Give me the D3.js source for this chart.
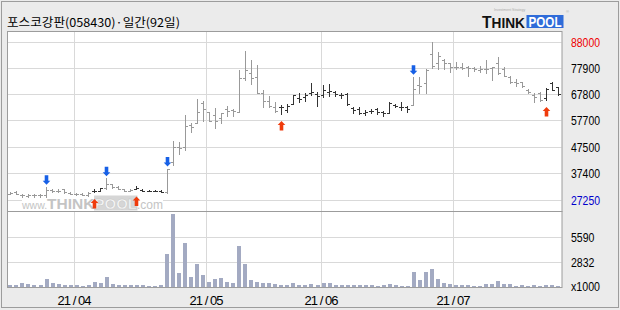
<!DOCTYPE html>
<html><head><meta charset="utf-8">
<script src="https://cdn.jsdelivr.net/npm/d3@7"></script>
<style>body{margin:0;background:#ebebeb}svg{display:block}</style>
</head><body><svg id="c" width="620" height="310"></svg>
<script>
const open=[29500,30250,29000,28600,29000,29000,28800,30900,30700,31100,
29750,29550,29350,28950,30500,30700,31650,33200,32050,31100,
30700,31300,30900,30700,30500,30700,29950,41550,47550,47250,
55900,56650,64500,60800,59750,58450,62050,61650,60800,73850,
76000,74450,68300,65250,62900,62700,61650,63950,66150,66800,
68300,67700,67450,68700,68700,67450,67700,62300,61950,60400,
61300,62050,61000,60650,63600,62900,62700,63600,71250,71950,
83200,79600,80900,79600,78100,78300,78300,77700,77050,77300,
77700,79600,77300,74450,72550,72300,69350,67450,68100,66150,
72150,70600];
const high=[30000,30350,29550,29350,29500,29550,32150,31300,31300,31300,
29950,29850,29750,29950,31100,31850,35400,33400,32250,31300,
31300,32250,31300,30900,30900,30900,39150,49750,49500,59750,
56550,65900,65250,60900,62300,60650,63200,62050,77000,84350,
80900,79000,69350,67150,64850,63600,63950,67450,68300,68100,
72150,68700,71250,71650,68950,68100,68100,62700,62700,61650,
61950,62300,61300,64850,63950,64850,63200,74450,74450,77300,
88000,84100,81150,79600,80000,79600,78600,78300,78600,80900,
78300,82150,78100,74850,73450,72550,69600,68300,68700,70000,
72300,70600];
const low=[29350,29350,28200,28400,28350,28400,28350,30150,30150,29750,
29350,29150,28950,28600,30150,30500,31100,31850,31100,30350,
30350,31100,30500,30350,30350,29950,29850,40500,44750,46300,
53300,56550,57550,57450,54650,56800,59450,59450,60800,73200,
71650,68100,62900,62700,61000,60100,61000,63950,64850,65250,
67450,63200,66800,67050,67050,66150,63600,60400,60100,59750,
60400,60100,59350,60400,62700,61650,61000,63600,68300,68300,
77700,77300,77300,76400,77300,77300,74850,76750,76400,76000,
73200,75400,74850,71950,71000,70600,68300,64850,65250,65500,
69350,67450];
const close=[29850,29500,28800,29150,29000,29150,30900,30700,30500,29950,
29550,29350,29150,29750,30700,31650,33200,32050,31300,30700,
30900,31850,30700,30500,30700,30150,39150,47450,46900,55500,
55250,60800,61900,57550,57550,60400,61300,61450,73850,77000,
73850,68300,65250,63200,61300,62900,63200,67300,65800,67450,
68700,67150,69350,68950,67700,67450,63950,61650,60400,61000,
61300,60800,60400,64450,63200,62700,61950,69600,70900,77000,
78600,82450,79600,78300,78100,77700,77700,77300,77300,77300,
78100,75750,74850,72550,72150,70900,68700,66800,65500,69750,
69350,67700];
const volume=[280,280,540,420,280,280,980,540,420,280,
280,280,170,280,650,540,1170,420,280,280,
280,280,280,170,170,280,3770,8200,1650,5000,
1210,2620,1395,650,950,1100,650,540,4630,2620,
800,650,540,540,430,280,280,540,280,280,
420,280,540,540,280,280,280,280,280,280,
280,170,280,420,280,170,170,1730,800,1730,
2100,950,540,420,280,280,280,170,170,420,
420,760,420,420,170,280,170,280,170,280,
280,170];
const buySignals=[14,21,45,89];
const sellSignals=[6,16,26,67];
const priceTicks=[88000,77900,67800,57700,47500,37400,27250];
const volTicks=[5590,2832];
const holidays=["2021-05-05","2021-05-19"];
const firstDay=new Date(2021,2,17), lastDay=new Date(2021,6,26);
const title="포스코강판(058430)·일간(92일)";

// trading-day categories
const fmtISO=d3.timeFormat("%Y-%m-%d");
const days=d3.timeDay.range(firstDay,d3.timeDay.offset(lastDay,1))
  .filter(d=>d.getDay()>0&&d.getDay()<6&&!holidays.includes(fmtISO(d)));

const svg=d3.select("#c");
const L=7.5,R=561.5,PT=31.5,PB=211.5,VB=287.5;

svg.append("rect").attr("x",1.5).attr("y",1.5).attr("width",617).attr("height",306)
  .attr("fill","#ebebeb").attr("stroke","#9c9c9c");

const x=d3.scaleBand().domain(d3.range(days.length)).range([L,R]).paddingInner(0.3).paddingOuter(0.15);
const step=x.step();
const y=d3.scaleLinear().domain([27250,88000]).range([199.5,41.5]);
const yv=d3.scaleLinear().domain([0,5590]).range([VB,237.3]);

svg.append("rect").attr("x",L).attr("y",PT).attr("width",R-L+0.5).attr("height",VB-PT).attr("fill","#fff");

const monthStarts=days.map((d,i)=>i).filter(i=>i>0&&days[i].getMonth()!==days[i-1].getMonth());
const gx=i=>Math.round(x(i)-step*0.15)+0.5;
const grid=svg.append("g").attr("stroke","#d9d9d9").attr("stroke-width",1);
monthStarts.forEach(i=>{
  grid.append("line").attr("x1",gx(i)).attr("x2",gx(i)).attr("y1",PT).attr("y2",VB);
});
priceTicks.forEach(v=>{
  const yy=Math.round(y(v))+0.5;
  grid.append("line").attr("x1",L).attr("x2",R).attr("y1",yy).attr("y2",yy);
});
volTicks.forEach(v=>{
  const yy=Math.round(yv(v))+0.5;
  grid.append("line").attr("x1",L).attr("x2",R).attr("y1",yy).attr("y2",yy);
});

// watermark (single text with tspans)
const wm=svg.append("g");
wm.append("rect").attr("x",22).attr("y",195).attr("width",141).attr("height",16).attr("fill","#fff");
wm.append("rect").attr("x",94).attr("y",195.5).attr("width",43.5).attr("height",15).attr("fill","#d6d6d6");
const wt=wm.append("text").attr("x",22).attr("y",208.5).attr("font-family","Liberation Sans").attr("fill","#c4c4c4");
wt.append("tspan").attr("font-size",10.5).text("www.");
wt.append("tspan").attr("font-size",15.5).attr("font-weight","bold").text("THINK");
wt.append("tspan").attr("font-size",15).attr("font-weight","bold").attr("fill","#f6f6f6")
  .attr("stroke","#c4c4c4").attr("stroke-width",0.5).text("POOL");
wt.append("tspan").attr("font-size",12).text(".com");

// bar state (dark after buy until sell)
const state=days.map((d,i)=>{
  let last=null;
  buySignals.forEach(b=>{if(b<=i&&(last===null||b>last.i))last={i:b,t:"buy"};});
  sellSignals.forEach(s=>{if(s<=i&&(last===null||s>last.i))last={i:s,t:"sell"};});
  return last&&last.t==="buy";
});

// volume bars
svg.append("g").selectAll("rect").data(volume).join("rect")
  .attr("x",(d,i)=>Math.round(x(i))).attr("width",4)
  .attr("y",d=>Math.round(yv(d))).attr("height",d=>VB-0.5-Math.round(yv(d)))
  .attr("fill","#a3aac2");

// OHLC bars
const ohlc=svg.append("g").attr("stroke-width",1).attr("shape-rendering","crispEdges");
days.forEach((d,i)=>{
  const cx=Math.floor(x(i)+x.bandwidth()/2)+0.5;
  const col=state[i]?"#333333":"#999999";
  const yh=Math.round(y(high[i])), yl=Math.round(y(low[i]));
  const yo=Math.round(y(open[i]))+0.5, yc=Math.round(y(close[i]))+0.5;
  ohlc.append("line").attr("x1",cx).attr("x2",cx).attr("y1",yh).attr("y2",Math.max(yl+1,yh+1)).attr("stroke",col);
  ohlc.append("line").attr("x1",cx-2.5).attr("x2",cx-0.5).attr("y1",yo).attr("y2",yo).attr("stroke",col);
  ohlc.append("line").attr("x1",cx+0.5).attr("x2",cx+2.5).attr("y1",yc).attr("y2",yc).attr("stroke",col);
});

// signal arrows
const down="M-1.8,-9.5L1.8,-9.5L1.8,-4L3.8,-4L0,0L-3.8,-4L-1.8,-4Z";
const up="M-1.8,9.5L1.8,9.5L1.8,4L3.8,4L0,0L-3.8,4L-1.8,4Z";
sellSignals.forEach(i=>{
  const cx=Math.floor(x(i)+x.bandwidth()/2)+0.5;
  svg.append("path").attr("d",down).attr("transform",`translate(${cx},${y(high[i])-2})`).attr("fill","#1760e6");
});
buySignals.forEach(i=>{
  const cx=Math.floor(x(i)+x.bandwidth()/2)+0.5;
  svg.append("path").attr("d",up).attr("transform",`translate(${cx},${y(low[i])+7})`).attr("fill","#ef3b0c");
});

// borders
const bd=svg.append("g").attr("stroke","#9c9c9c").attr("fill","none");
bd.append("rect").attr("x",L).attr("y",PT).attr("width",R-L+0.5).attr("height",PB-PT);
bd.append("rect").attr("x",L).attr("y",PB).attr("width",R-L+0.5).attr("height",VB-PB);

// right labels
const rl=svg.append("g").attr("font-family","Liberation Sans").attr("font-size",13);
priceTicks.forEach((v,k)=>{
  rl.append("text").attr("x",571).attr("y",Math.round(y(v))+5)
    .attr("fill",k===0?"#ee0000":(k===priceTicks.length-1?"#0000cc":"#000"))
    .attr("textLength",29).attr("lengthAdjust","spacingAndGlyphs").text(v);
});
volTicks.forEach(v=>{
  rl.append("text").attr("x",571).attr("y",Math.round(yv(v))+5).attr("fill","#000")
    .attr("textLength",23.5).attr("lengthAdjust","spacingAndGlyphs").text(v);
});
rl.append("text").attr("x",571).attr("y",VB+3.5).attr("fill","#000")
  .attr("textLength",29).attr("lengthAdjust","spacingAndGlyphs").text("x1000");

// bottom labels
const fmtM=d3.timeFormat("%y/%m");
const bl=svg.append("g").attr("font-family","Liberation Sans").attr("font-size",13);
monthStarts.forEach(i=>{
  bl.append("text").attr("x",gx(i)).attr("y",305).attr("text-anchor","middle")
    .attr("textLength",34).attr("lengthAdjust","spacing").text(fmtM(days[i]).replace("/"," / "));
});

// title
svg.append("text").attr("x",7).attr("y",26.5).attr("font-family","Noto Sans CJK KR").attr("font-size",12)
  .attr("textLength",173).attr("lengthAdjust","spacingAndGlyphs").attr("fill","#000").text(title);

// top logo
const lg=svg.append("g");
lg.append("text").attr("x",482).attr("y",27.5).attr("font-family","Liberation Sans").attr("font-weight","bold")
  .attr("font-size",14).attr("fill","#111").attr("textLength",43).attr("lengthAdjust","spacingAndGlyphs")
  .html('<tspan font-size="16">T</tspan>HINK');
lg.append("rect").attr("x",526.5).attr("y",15).attr("width",37).attr("height",13).attr("fill","#2f6cd9");
lg.append("text").attr("x",528.5).attr("y",27).attr("font-family","Liberation Sans").attr("font-weight","bold")
  .attr("font-size",14).attr("fill","#fff").attr("textLength",33).attr("lengthAdjust","spacingAndGlyphs").text("POOL");
lg.append("text").attr("x",494).attr("y",11).attr("font-family","Liberation Sans").attr("font-size",3.5)
  .attr("fill","#aaa").text("Investment Strategy");
lg.append("text").attr("x",566).attr("y",13).attr("font-family","Liberation Sans").attr("font-size",4)
  .attr("fill","#aaa").text("®");
</script></body></html>
